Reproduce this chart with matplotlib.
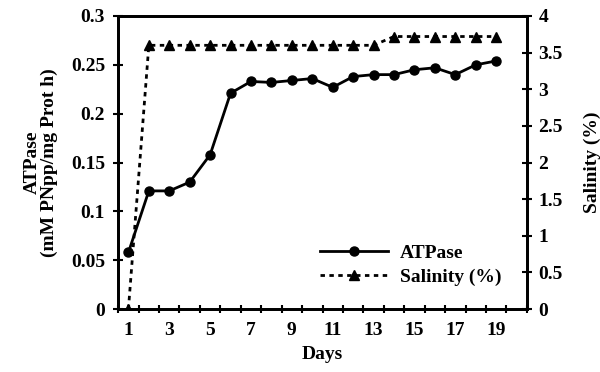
import matplotlib
matplotlib.use("Agg")
import matplotlib.pyplot as plt
from matplotlib.ticker import FixedLocator, NullFormatter

days = list(range(1, 20))
atpase = [0.058, 0.121, 0.121, 0.130, 0.158, 0.221, 0.233, 0.232, 0.234, 0.236,
          0.227, 0.238, 0.240, 0.240, 0.245, 0.247, 0.240, 0.250, 0.254]
salinity = [0.0, 3.6, 3.6, 3.6, 3.6, 3.6, 3.6, 3.6, 3.6, 3.6,
            3.6, 3.6, 3.6, 3.72, 3.72, 3.72, 3.72, 3.72, 3.72]
day_labels = [str(d) for d in range(1, 20, 2)]
left_ticks = [0, 0.05, 0.1, 0.15, 0.2, 0.25, 0.3]
left_labels = ["0", "0.05", "0.1", "0.15", "0.2", "0.25", "0.3"]
right_ticks = [0, 0.5, 1, 1.5, 2, 2.5, 3, 3.5, 4]
right_labels = ["0", "0.5", "1", "1.5", "2", "2.5", "3", "3.5", "4"]

plt.rcParams['font.family'] = ['Liberation Serif', 'DejaVu Serif']
plt.rcParams['font.weight'] = 'bold'
FS = 14

fig = plt.figure(figsize=(6, 3.72), dpi=100)
ax = fig.add_axes([0.197, 0.169, 0.681, 0.788])
ax2 = ax.twinx()

l1, = ax.plot(days, atpase, '-', color='black', lw=2.0, marker='o', ms=6.5,
              label='ATPase', zorder=3)
l2, = ax2.plot(days, salinity, linestyle=(0, (1.6, 1.6)), color='black', lw=2.0,
               marker='^', ms=6.5, label='Salinity (%)', zorder=3)

ax.set_xlim(0.5, 20.5)
ax.set_ylim(0, 0.3)
ax2.set_ylim(0, 4)

ax.xaxis.set_major_locator(FixedLocator(list(range(1, 20, 2))))
ax.set_xticklabels(day_labels, fontsize=FS, fontweight='bold')
ax.tick_params(axis='x', which='major', length=0, pad=9)
ax.xaxis.set_minor_locator(FixedLocator([i + 0.5 for i in range(0, 21)]))
ax.xaxis.set_minor_formatter(NullFormatter())
ax.tick_params(axis='x', which='minor', length=6, width=1.5, direction='inout')

ax.set_yticks(left_ticks)
ax.set_yticklabels(left_labels, fontsize=FS, fontweight='bold')
ax.tick_params(axis='y', length=7, width=1.5, direction='inout', pad=6)
ax2.set_yticks(right_ticks)
ax2.set_yticklabels(right_labels, fontsize=FS, fontweight='bold')
ax2.tick_params(axis='y', length=7, width=1.5, direction='inout', pad=5)

for a in (ax, ax2):
    for s in a.spines.values():
        s.set_linewidth(2)

ax.set_xlabel('Days', fontsize=FS, fontweight='bold', labelpad=5)
ax.set_ylabel('ATPase\n(mM PNpp/mg Prot h)', fontsize=FS, fontweight='bold',
              labelpad=9, linespacing=1.0)
ax2.set_ylabel('Salinity (%)', fontsize=FS, fontweight='bold', labelpad=15)

leg = ax.legend([l1, l2], ['ATPase', 'Salinity (%)'], loc='lower right',
                bbox_to_anchor=(0.98, 0.02), frameon=False,
                prop={'size': FS, 'weight': 'bold'},
                handlelength=3.5, handletextpad=0.6, labelspacing=0.3)

fig.savefig('out.png', dpi=100)
